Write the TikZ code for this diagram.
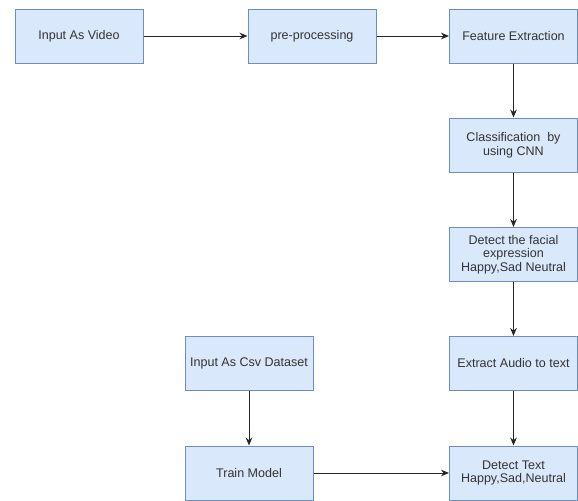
\documentclass[tikz,border=0pt]{standalone}
\usepackage{fontspec}
\setmainfont{Liberation Sans}
\usetikzlibrary{arrows.meta}
\definecolor{boxfill}{HTML}{DAE8FC}
\definecolor{boxline}{HTML}{6C8EBF}
\definecolor{txt}{HTML}{333333}
\tikzset{
    procbox/.style={draw=boxline, fill=boxfill, line width=0.75pt,
        minimum width=96pt, minimum height=40.5pt, inner sep=0pt,
        align=center, text=txt, font=\fontsize{9.4}{10.2}\selectfont},
    flow/.style={-{Stealth[length=6pt,width=5pt]}, line width=0.75pt, black!85}
}
\begin{document}
\begin{tikzpicture}[x=0.75pt,y=-0.75pt]
    \useasboundingbox (0,0) rectangle (578,500);
    % video branch
    \node[procbox] (video) at (79,36) {Input As Video};
    \node[procbox] (prep) at (312,36) {pre-processing};
    \node[procbox] (feat) at (513.5,36) {Feature Extraction};
    \node[procbox] (cnn) at (513.5,145) {Classification \ by\\using CNN};
    \node[procbox] (face) at (513.5,254.5) {Detect the facial\\expression\\Happy,Sad Neutral};
    \node[procbox] (audio) at (513.5,363.5) {Extract Audio to text};
    \node[procbox] (dtext) at (513.5,473) {Detect Text\\Happy,Sad,Neutral};
    % csv branch
    \node[procbox] (csv) at (249,363.5) {Input As Csv Dataset};
    \node[procbox] (train) at (249,473) {Train Model};
    \draw[flow] (video) -- (prep);
    \draw[flow] (prep) -- (feat);
    \draw[flow] (feat) -- (cnn);
    \draw[flow] (cnn) -- (face);
    \draw[flow] (face) -- (audio);
    \draw[flow] (audio) -- (dtext);
    \draw[flow] (csv) -- (train);
    \draw[flow] (train) -- (dtext);
\end{tikzpicture}
\end{document}
